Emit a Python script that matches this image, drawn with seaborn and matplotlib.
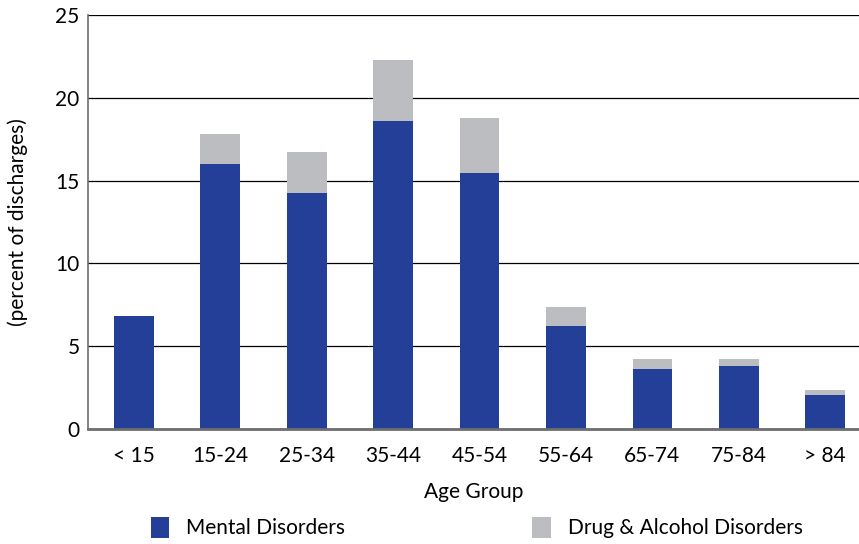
import pandas as pd
import numpy as np
import matplotlib
matplotlib.use("Agg")
import matplotlib.pyplot as plt
import seaborn as sns
from matplotlib.patches import Patch

# ------------------------------ data ------------------------------
age_groups = ["< 15", "15-24", "25-34", "35-44", "45-54", "55-64", "65-74", "75-84", "> 84"]
mental = [6.8, 16.0, 14.25, 18.6, 15.45, 6.2, 3.6, 3.8, 2.05]
drug_alcohol = [0.0, 1.8, 2.45, 3.7, 3.35, 1.15, 0.6, 0.4, 0.3]

df = pd.DataFrame({"Age Group": age_groups, "Mental": mental, "Drug": drug_alcohol})
df["Total"] = df["Mental"] + df["Drug"]

blue = "#233F97"
gray = "#BCBDC0"

sns.set_style("white")
plt.rcParams["font.family"] = ["Lato", "DejaVu Sans"]
plt.rcParams["text.color"] = "black"
plt.rcParams["axes.labelcolor"] = "black"

fs = 15

fig = plt.figure(figsize=(8.59, 5.44), dpi=100)
ax = fig.add_axes([0.1024, 0.2114, 0.8976, 0.761])

# gray (total) first, then blue (mental) on top -> stacked look
sns.barplot(x="Age Group", y="Total", data=df, color=gray, width=0.46,
            saturation=1, linewidth=0, ax=ax, zorder=3)
sns.barplot(x="Age Group", y="Mental", data=df, color=blue, width=0.46,
            saturation=1, linewidth=0, ax=ax, zorder=4)

ax.set_ylim(0, 25)
ax.set_xlim(-0.53, 8.39)
ax.set_yticks([0, 5, 10, 15, 20, 25])
ax.yaxis.grid(True, color="black", linewidth=0.9, zorder=0)
ax.set_axisbelow(True)

for s in ["top", "right"]:
    ax.spines[s].set_visible(False)
ax.spines["left"].set_color("#6d6e71")
ax.spines["left"].set_linewidth(1.2)
ax.spines["bottom"].set_color("#6d6e71")
ax.spines["bottom"].set_linewidth(2)
ax.spines["bottom"].set_zorder(5)

ax.tick_params(axis="both", length=0, labelsize=fs, colors="black", pad=12)
ax.tick_params(axis="y", pad=6)
ax.set_xlabel("Age Group", fontsize=fs, labelpad=12)
ax.set_ylabel("(percent of discharges)", fontsize=fs, labelpad=20)

handles = [Patch(facecolor=blue, edgecolor="none", label="Mental Disorders"),
           Patch(facecolor=gray, edgecolor="none", label="Drug & Alcohol Disorders")]
fig.legend(handles=handles, loc="center", bbox_to_anchor=(0.555, 0.03), ncol=2,
           frameon=False, fontsize=fs, handlelength=0.9, handleheight=1.15,
           columnspacing=9, handletextpad=0.8)

plt.savefig("out.png", dpi=100)
